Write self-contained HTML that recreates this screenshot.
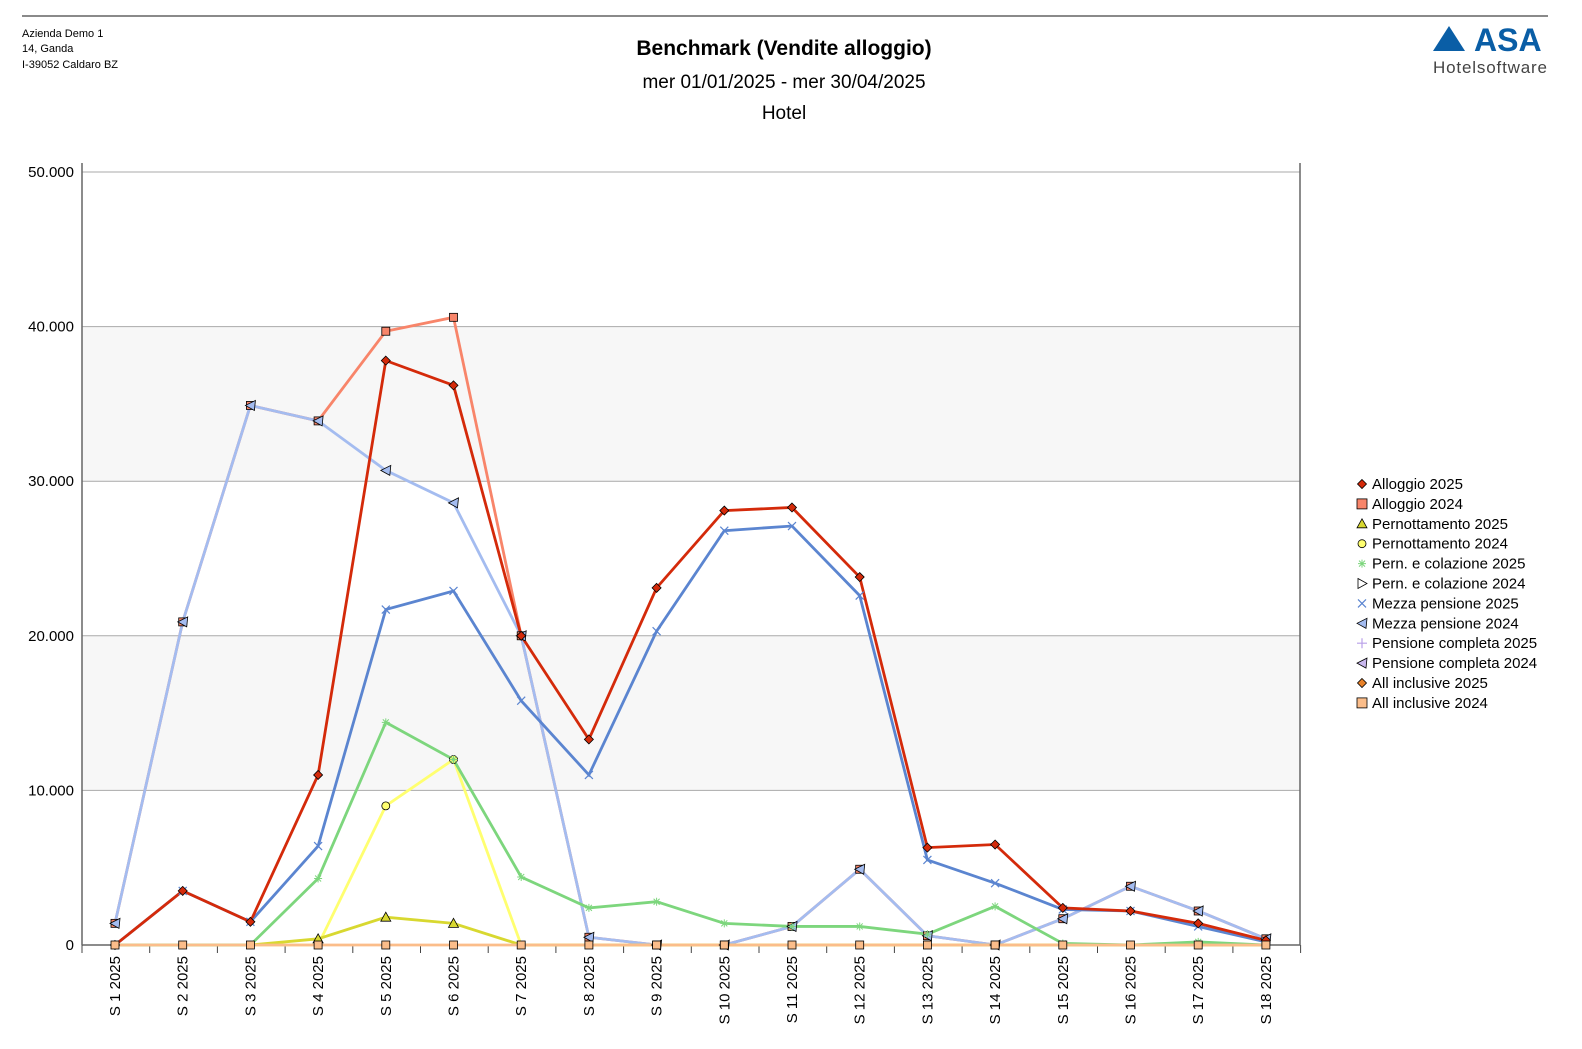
<!DOCTYPE html>
<html><head><meta charset="utf-8"><style>
html,body{margin:0;padding:0;background:#fff;width:1582px;height:1049px;overflow:hidden;font-family:"Liberation Sans",sans-serif}
svg{display:block}
</style></head><body>
<svg id="s" width="1582" height="1049" xmlns="http://www.w3.org/2000/svg" font-family="Liberation Sans, sans-serif">
<line x1="22" y1="16" x2="1548" y2="16" stroke="#444" stroke-width="1.3"/>
<text x="22" y="37" font-size="11">Azienda Demo 1</text>
<text x="22" y="52" font-size="11">14, Ganda</text>
<text x="22" y="68" font-size="11">I-39052 Caldaro BZ</text>
<text x="784" y="55" font-size="21" font-weight="bold" text-anchor="middle">Benchmark (Vendite alloggio)</text>
<text x="784" y="88" font-size="19" text-anchor="middle">mer 01/01/2025 - mer 30/04/2025</text>
<text x="784" y="119" font-size="19" text-anchor="middle">Hotel</text>
<polygon points="1433,51 1449,26 1465,51" fill="#0a5ea6"/>
<text x="1474" y="51" font-size="32" font-weight="bold" fill="#0a5ea6">ASA</text>
<text x="1433" y="73" font-size="17" fill="#444" textLength="114">Hotelsoftware</text>
<rect x="82" y="327" width="1218" height="155" fill="#f7f7f7"/>
<rect x="82" y="636" width="1218" height="155" fill="#f7f7f7"/>
<g id="g"></g>
</svg>
<script>
const g=document.getElementById('g');let h='';
const X=i=>115+i*67.7, Y=v=>945-v*0.01546;
for(let k=1;k<=5;k++){const y=Y(k*10000);h+=`<line x1="82" y1="${y}" x2="1300" y2="${y}" stroke="#aaa"/><text x="74" y="${y+5}" font-size="15" text-anchor="end">${k*10}.000</text>`}
h+=`<text x="74" y="950" font-size="15" text-anchor="end">0</text>`;
h+=`<line x1="82" y1="163" x2="82" y2="945" stroke="#666" stroke-width="1.5"/><line x1="1300" y1="163" x2="1300" y2="945" stroke="#666" stroke-width="1.5"/><line x1="82" y1="945" x2="1300" y2="945" stroke="#666" stroke-width="1.5"/>`;
for(let i=0;i<=18;i++){const x=82+i*67.7;h+=`<line x1="${x}" y1="945" x2="${x}" y2="953" stroke="#444"/>`}
for(let i=0;i<18;i++){const x=X(i)+5;h+=`<text transform="translate(${x},956) rotate(-90)" font-size="15" text-anchor="end">S ${i+1} 2025</text>`}
const S=[
['#f8856a',[1400,20900,34900,33900,39700,40600,20000,500,0,0,1200,4900,600,0,1700,3800,2200,400],'sq'],
['#a4bcf0',[1400,20900,34900,33900,30700,28600,20000,500,0,0,1200,4900,600,0,1700,3800,2200,400],'tri'],
['#ffff70',[0,0,0,0,9000,12000,0,0,0,0,0,0,0,0,0,0,0,0],'ci'],
['#d8d830',[0,0,0,400,1800,1400,0,0,0,0,0,0,0,0,0,0,0,0],'tu'],
['#7dd67d',[0,0,0,4300,14400,12000,4400,2400,2800,1400,1200,1200,700,2500,100,0,200,0],'st'],
['#5b85d0',[0,3500,1500,6400,21700,22900,15800,11000,20300,26800,27100,22600,5500,4000,2300,2200,1200,200],'x'],
['#d42a0a',[0,3500,1500,11000,37800,36200,20000,13300,23100,28100,28300,23800,6300,6500,2400,2200,1400,300],'di'],
['#fbbd8a',[0,0,0,0,0,0,0,0,0,0,0,0,0,0,0,0,0,0],'sq2']];
function mk(t,x,y,c){
 if(t=='sq'||t=='sq2')return `<rect x="${x-4}" y="${y-4}" width="8" height="8" fill="${c}" stroke="#000" stroke-width=".8"/>`;
 if(t=='di')return `<polygon points="${x},${y-4.5} ${x+4.5},${y} ${x},${y+4.5} ${x-4.5},${y}" fill="${c}" stroke="#000" stroke-width=".8"/>`;
 if(t=='ci')return `<circle cx="${x}" cy="${y}" r="4" fill="${c}" stroke="#000" stroke-width=".8"/>`;
 if(t=='tu')return `<polygon points="${x},${y-5} ${x+5},${y+4} ${x-5},${y+4}" fill="${c}" stroke="#000" stroke-width=".8"/>`;
 if(t=='tri')return `<polygon points="${x-5},${y} ${x+5},${y-5} ${x+4},${y+5}" fill="${c}" stroke="#000" stroke-width=".8"/>`;
 if(t=='x')return `<path d="M${x-4} ${y-4}L${x+4} ${y+4}M${x-4} ${y+4}L${x+4} ${y-4}" stroke="${c}" stroke-width="1.2"/>`;
 if(t=='st')return `<path d="M${x-4} ${y}H${x+4}M${x} ${y-4}V${y+4}M${x-3} ${y-3}L${x+3} ${y+3}M${x-3} ${y+3}L${x+3} ${y-3}" stroke="${c}" stroke-width="1"/>`;
 return '';}
for(const [c,d,t] of S){h+=`<polyline fill="none" stroke="${c}" stroke-width="2.8" points="${d.map((v,i)=>X(i)+','+Y(v)).join(' ')}"/>`}
for(const [c,d,t] of S){d.forEach((v,i)=>{if(t=='ci'||t=='tu'){if(v>0)h+=mk(t,X(i),Y(v),c)}else h+=mk(t,X(i),Y(v),c)})}
const L=[['Alloggio 2025','di','#d42a0a'],['Alloggio 2024','sq','#f8856a'],['Pernottamento 2025','tu','#d8d830'],['Pernottamento 2024','ci','#ffff70'],['Pern. e colazione 2025','st','#7dd67d'],['Pern. e colazione 2024','tr','#7dd67d'],['Mezza pensione 2025','x','#5b85d0'],['Mezza pensione 2024','tri','#a4bcf0'],['Pensione completa 2025','pl','#b9a0e8'],['Pensione completa 2024','tri','#c9b8ee'],['All inclusive 2025','di','#e8822a'],['All inclusive 2024','sq','#fbbd8a']];
L.forEach(([n,t,c],i)=>{const y=484+i*19.9,x=1362;
 if(t=='tr')h+=`<polygon points="${x-4},${y-5} ${x+5},${y} ${x-4},${y+5}" fill="#fff" stroke="#000" stroke-width=".8"/>`;
 else if(t=='pl')h+=`<path d="M${x-5} ${y}H${x+5}M${x} ${y-5}V${y+5}" stroke="${c}" stroke-width="1.2"/>`;
 else h+=mk(t,x,y,c).replace(/width="8" height="8"/,'width="10" height="10"').replace(`x="${x-4}" y="${y-4}"`,`x="${x-5}" y="${y-5}"`);
 h+=`<text x="1372" y="${y+5}" font-size="15">${n}</text>`});
g.innerHTML=h;
</script>
</body></html>
